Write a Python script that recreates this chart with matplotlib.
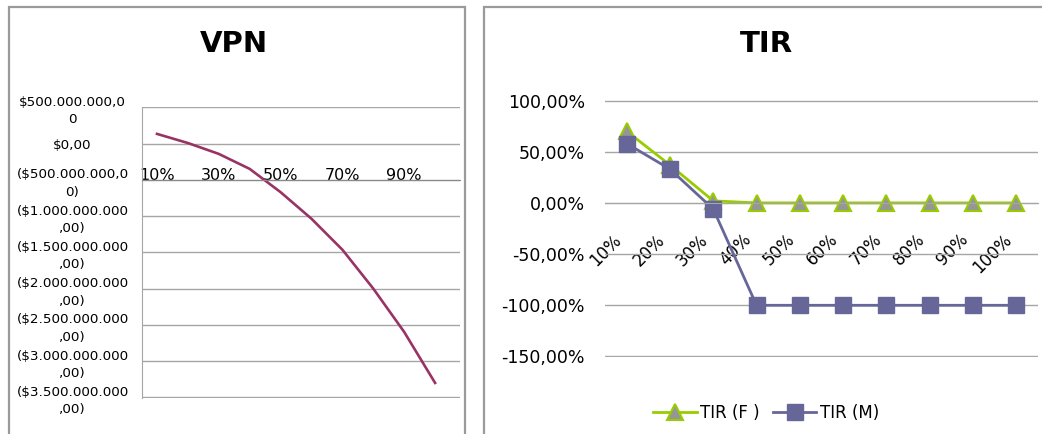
import numpy as np
import matplotlib
matplotlib.use("Agg")
import matplotlib.pyplot as plt
from matplotlib.patches import Rectangle
from matplotlib.transforms import ScaledTranslation

# Discount rates shared by both charts
categories = ['10%', '20%', '30%', '40%', '50%', '60%', '70%', '80%', '90%', '100%']

# Net present value per rate (pesos)
vpn = [134e6, 8e6, -142e6, -349e6, -670e6, -1037e6, -1464e6, -2001e6, -2599e6, -3302e6]
vpn_ticks = [500e6, 0, -500e6, -1000e6, -1500e6, -2000e6, -2500e6, -3000e6, -3500e6]
vpn_tick_labels = ['$500.000.000,0\n0', '$0,00', '($500.000.000,0\n0)',
                   '($1.000.000.000\n,00)', '($1.500.000.000\n,00)', '($2.000.000.000\n,00)',
                   '($2.500.000.000\n,00)', '($3.000.000.000\n,00)', '($3.500.000.000\n,00)']

# Internal rate of return, two scenarios
tir_f = [0.70, 0.37, 0.02, 0, 0, 0, 0, 0, 0, 0]
tir_m = [0.58, 0.33, -0.06, -1.0, -1.0, -1.0, -1.0, -1.0, -1.0, -1.0]
tir_ticks = [1.0, 0.5, 0.0, -0.5, -1.0, -1.5]
tir_tick_labels = ['100,00%', '50,00%', '0,00%', '-50,00%', '-100,00%', '-150,00%']

W, H = 1042, 434
GRID = '#a6a6a6'


def fx(px):
    return px / W


def fy(py):
    return 1 - py / H


fig = plt.figure(figsize=(W / 100, H / 100), dpi=100)

# chart frames
for x0, x1 in [(9, 465), (484, 1060)]:
    fig.add_artist(Rectangle((fx(x0), -0.05), fx(x1) - fx(x0), fy(6.7) + 0.05,
                             transform=fig.transFigure, fill=False,
                             edgecolor='#9a9a9a', lw=1.6))

x = np.arange(len(categories))

# ---- VPN ----
ax1 = fig.add_axes([fx(142), fy(398), fx(460) - fx(142), (398 - 107) / H])
for s in ['top', 'right']:
    ax1.spines[s].set_visible(False)
ax1.spines['left'].set_color(GRID)
ax1.spines['bottom'].set_position(('data', -500e6))
ax1.spines['bottom'].set_color('#8a8a8a')

ax1.plot(x, vpn, color='#993366', lw=1.9)
ax1.set_xlim(-0.485, 9.806)
ax1.set_ylim(-3510e6, 505e6)
ax1.set_yticks(vpn_ticks, vpn_tick_labels, fontsize=9.7)
ax1.tick_params(axis='y', length=0, pad=50)
for lab in ax1.get_yticklabels():
    lab.set_ha('center')
    lab.set_multialignment('center')
    lab.set_linespacing(1.45)
ax1.set_xticks(x[::2], categories[::2], fontsize=11.5)
ax1.tick_params(axis='x', length=0, pad=-8.2)
ax1.grid(axis='y', color=GRID, lw=1)
ax1.set_axisbelow(True)

fig.text(fx(234), fy(44.5), 'VPN', ha='center', va='center',
         fontsize=21, fontweight='bold')

# ---- TIR ----
ax2 = fig.add_axes([fx(605), fy(357), fx(1038) - fx(605), (357 - 100) / H])
for s in ['top', 'right', 'left']:
    ax2.spines[s].set_visible(False)
ax2.spines['bottom'].set_position(('data', 0))
ax2.spines['bottom'].set_color(GRID)

ax2.plot(x, tir_f, color='#99cc00', lw=2, marker='^', ms=11,
         mfc='#969696', mec='#99cc00', mew=1.5, label='TIR (F )', clip_on=False)
ax2.plot(x, tir_m, color='#666699', lw=2, marker='s', ms=12,
         mfc='#666699', mec='#666699', label='TIR (M)', clip_on=False)
ax2.set_xlim(-0.5, 9.5)
ax2.set_ylim(-1.505, 1.005)
ax2.set_yticks(tir_ticks, tir_tick_labels, fontsize=12.5)
ax2.tick_params(axis='y', length=0, pad=14.4)
ax2.set_xticks(x, categories, fontsize=12)
ax2.tick_params(axis='x', length=0, pad=20)
shift = ScaledTranslation(-14 / 100, 0, fig.dpi_scale_trans)
for lab in ax2.get_xticklabels():
    lab.set_rotation(45)
    lab.set_ha('right')
    lab.set_va('top')
    lab.set_rotation_mode('anchor')
    lab.set_transform(lab.get_transform() + shift)
ax2.grid(axis='y', color=GRID, lw=1)
ax2.set_axisbelow(True)

fig.text(fx(766), fy(44.5), 'TIR', ha='center', va='center',
         fontsize=21, fontweight='bold')

fig.legend(loc='center', bbox_to_anchor=(fx(766), fy(413)), ncol=2,
           frameon=False, fontsize=12, handlelength=2.6, handletextpad=0.2,
           columnspacing=0.8)

fig.savefig('out.png', dpi=100)
